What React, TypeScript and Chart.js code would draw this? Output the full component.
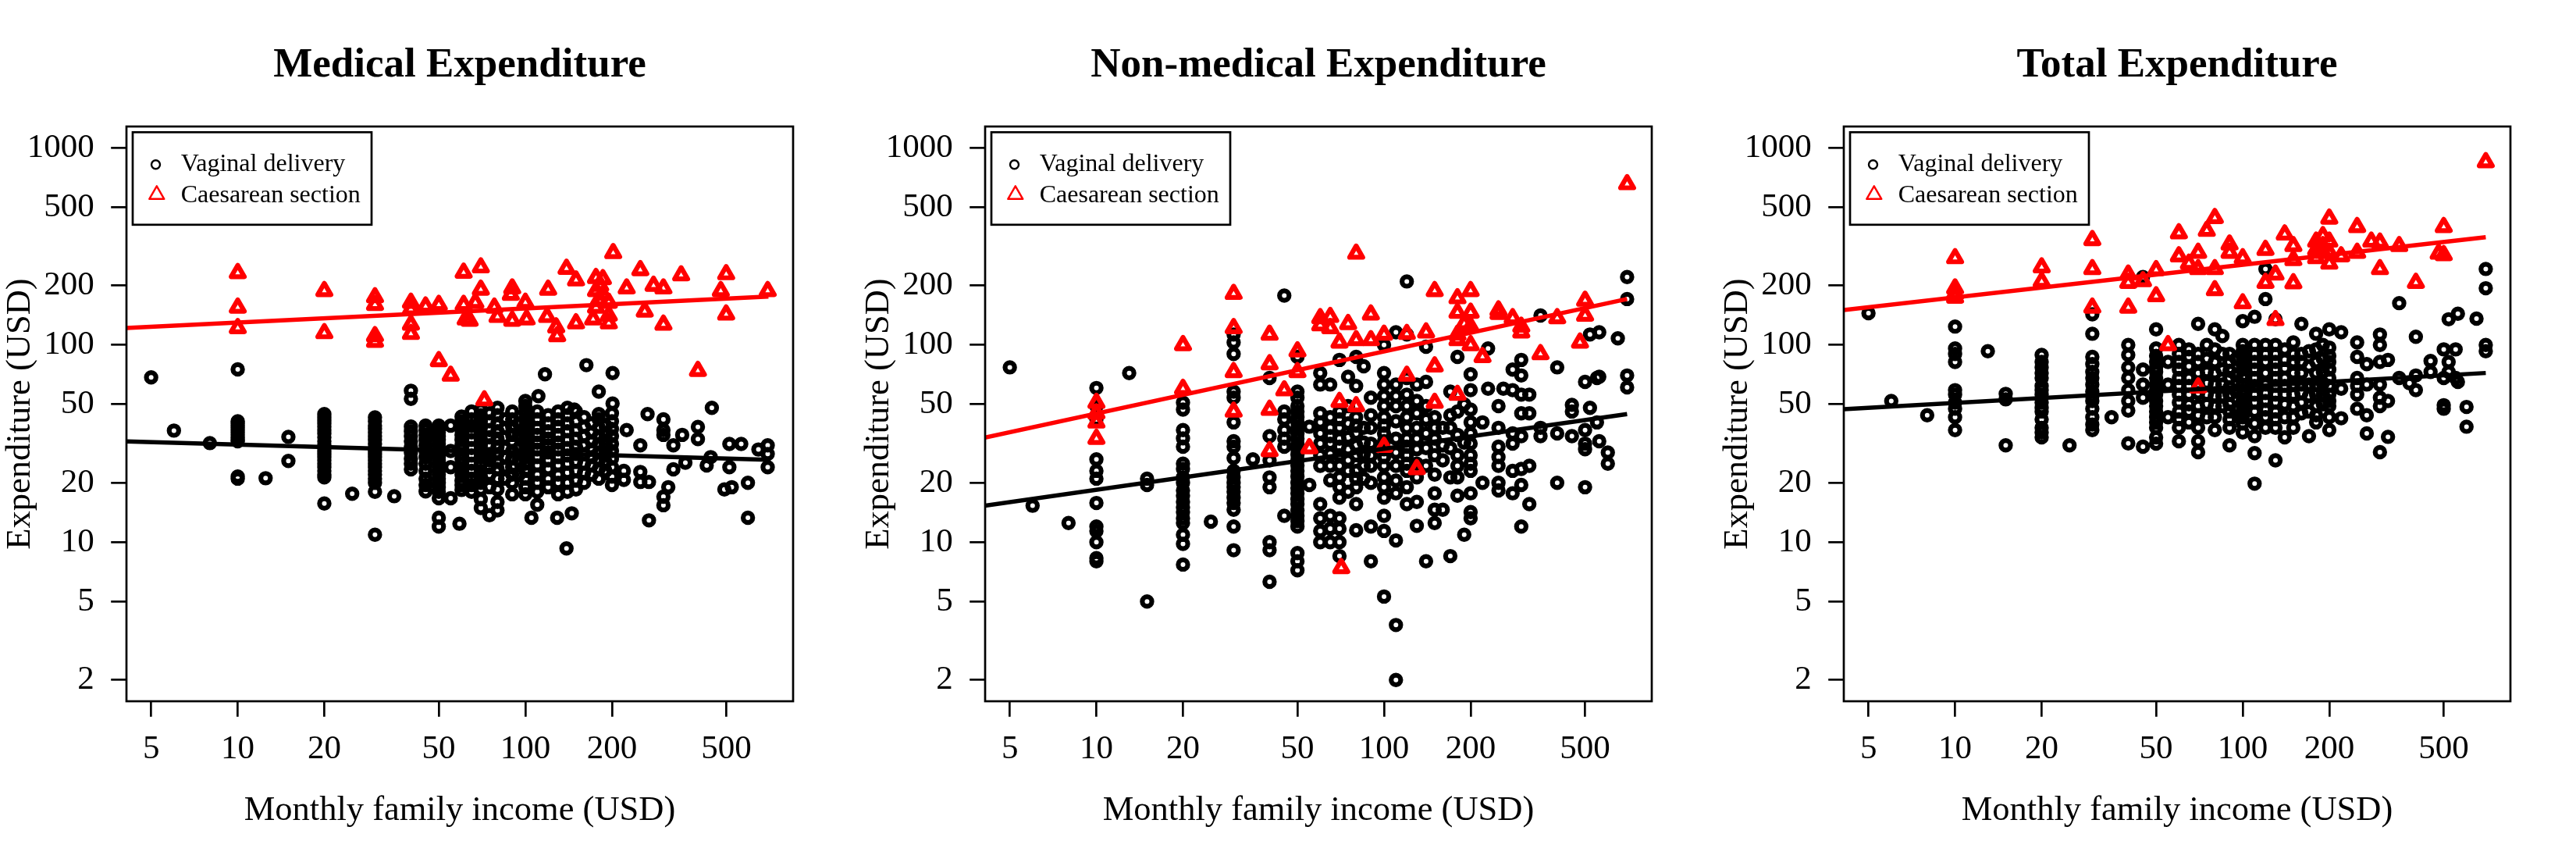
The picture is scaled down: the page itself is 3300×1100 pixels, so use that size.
import React, { useEffect, useRef } from "react";
import { Chart, registerables } from "chart.js";

Chart.register(...registerables);

const FONT = '"Liberation Serif", "Times New Roman", serif';

const xTicks = [5, 10, 20, 50, 100, 200, 500];
const yTicks = [2, 5, 10, 20, 50, 100, 200, 500, 1000];
const xRange = [4.103, 852.8];
const yRange = [1.56, 1282];
const fitIncome = [4.1, 700];

const panelTitles = ["Medical Expenditure", "Non-medical Expenditure", "Total Expenditure"];
const seriesLabels = ["Vaginal delivery", "Caesarean section"];
const xAxisTitle = "Monthly family income (USD)";
const yAxisTitle = "Expenditure (USD)";

type P = [number, number];

const medicalVaginal: P[] = [
  [5, 68.5], [6, 36.8], [8, 31.8],
  [10, 75.2], [10, 41], [10, 40], [10, 39], [10, 38], [10, 37], [10, 36], [10, 35], [10, 34], [10, 33], [10, 32.5], [10, 21.5], [10, 21],
  [12.5, 21.1], [15, 34.2], [15, 25.8],
  [20, 44.6], [20, 43], [20, 41.5], [20, 40], [20, 38.5], [20, 37], [20, 35.5], [20, 34], [20, 32.5], [20, 31], [20, 30], [20, 29], [20, 28], [20, 27], [20, 26], [20, 25], [20, 24], [20, 23], [20, 22], [20, 21.3], [20, 15.7],
  [25, 17.6],
  [30, 42.9], [30, 41], [30, 39], [30, 37.5], [30, 36], [30, 34.5], [30, 33], [30, 31.5], [30, 30], [30, 29], [30, 28], [30, 27], [30, 26], [30, 25], [30, 24], [30, 23], [30, 22], [30, 21], [30, 20], [30, 18], [30, 10.9],
  [35, 17.1],
  [40, 58.6], [40, 53.3], [40, 38.6], [40, 36.5], [40, 34.5], [40, 32.5], [40, 30.5], [40, 28.5], [40, 26.5], [40, 25], [40, 23.4],
  [45, 39], [45, 37], [45, 35], [45, 33], [45, 31], [45, 29], [45, 27], [45, 25], [45, 23], [45, 21], [45, 19.5], [45, 18.1],
  [50, 39], [50, 37.5], [50, 36], [50, 34.5], [50, 33], [50, 31.5], [50, 30], [50, 29], [50, 28], [50, 27], [50, 26], [50, 25], [50, 24], [50, 23], [50, 22], [50, 21], [50, 20], [50, 19], [50, 18], [50, 16.7], [50, 13.3], [50, 12],
  [55, 39], [55, 29], [55, 24], [55, 16.7], [59, 12.4],
  [60, 43.3], [60, 41], [60, 39], [60, 37], [60, 35], [60, 33], [60, 31], [60, 29.5], [60, 28], [60, 26.5], [60, 25], [60, 23.5], [60, 22], [60, 20.5], [60, 19.5], [60, 18.4],
  [65, 46], [65, 42], [65, 39], [65, 36], [65, 33], [65, 30], [65, 27.5], [65, 25], [65, 23], [65, 21], [65, 19.5], [65, 18],
  [70, 47], [70, 44], [70, 41], [70, 38], [70, 35.5], [70, 33], [70, 31], [70, 29], [70, 27], [70, 25], [70, 23], [70, 21.5], [70, 20], [70, 18.5], [70, 16.5], [70, 14.9],
  [75, 45], [75, 41], [75, 37], [75, 34], [75, 31], [75, 28], [75, 26], [75, 24], [75, 22], [75, 19], [75, 13.7],
  [80, 48], [80, 44], [80, 40], [80, 36.5], [80, 33.5], [80, 30.5], [80, 28], [80, 25.5], [80, 23.5], [80, 21], [80, 18.5], [80, 16], [80, 14.5],
  [85, 42], [85, 38], [85, 34], [85, 30], [85, 27], [85, 24], [85, 21],
  [90, 46], [90, 42], [90, 38.5], [90, 35], [90, 32], [90, 29], [90, 26.5], [90, 24], [90, 22], [90, 20], [90, 17.5],
  [95, 40], [95, 35], [95, 30], [95, 26], [95, 22],
  [100, 52], [100, 49], [100, 45], [100, 42], [100, 39], [100, 36], [100, 33.5], [100, 31], [100, 29], [100, 27], [100, 25], [100, 23], [100, 21], [100, 19], [100, 17.5], [105, 13.3],
  [111, 55], [110, 46], [110, 42], [110, 38], [110, 35], [110, 32], [110, 29.5], [110, 27], [110, 24.5], [110, 22], [110, 20], [110, 18], [110, 15.5],
  [117, 71], [120, 44], [120, 40], [120, 36.5], [120, 33.5], [120, 31], [120, 28.5], [120, 26], [120, 23.5], [120, 21], [120, 19],
  [129, 13.3], [130, 46], [130, 42], [130, 38.5], [130, 35], [130, 32], [130, 29.5], [130, 27], [130, 24.5], [130, 22], [130, 20], [130, 17.5],
  [139, 9.3], [140, 48], [140, 44], [140, 40], [140, 36.5], [140, 33], [140, 30], [140, 27.5], [140, 25], [140, 22.5], [140, 20], [140, 18], [145, 14],
  [148, 47], [150, 46], [150, 41], [150, 37], [150, 33.5], [150, 30.5], [150, 28], [150, 25.5], [150, 23], [150, 20.5], [150, 18.5],
  [160, 43], [160, 38.5], [160, 34.5], [160, 31], [160, 28], [160, 25], [160, 22.5], [160, 20], [163, 79],
  [170, 40], [170, 36], [170, 32.5], [170, 29.5], [170, 27], [170, 24.5], [170, 22],
  [180, 58], [180, 44.6], [180, 42], [180, 38], [180, 34.5], [180, 31.5], [180, 28.5], [180, 26], [180, 23.5], [180, 21],
  [190, 39], [190, 35], [190, 31.5], [190, 28.5], [190, 25.5], [190, 23],
  [201, 72], [201, 50.5], [200, 45], [200, 41], [200, 37.5], [200, 34.5], [200, 31.5], [200, 29], [200, 26.5], [200, 24], [200, 21.5], [200, 19.5],
  [225, 37], [220, 23], [220, 20.7],
  [251, 31], [251, 22.7], [251, 20.2], [266, 44.6], [269, 20.2], [269, 12.9],
  [302, 42], [302, 37], [302, 35], [302, 17], [302, 15.4], [314, 19], [327, 31], [327, 23.4], [351, 35], [360, 25.3],
  [398, 38.4], [398, 33.3], [427, 24.5], [441, 27], [445, 48],
  [492, 18.5], [512, 31.5], [512, 24], [522, 19], [563, 31.5], [594, 20], [594, 13.3],
  [646, 29.5], [696, 31], [696, 28], [696, 24],
];

const medicalCaesarean: P[] = [
  [10, 232], [10, 155], [10, 122], [20, 188], [20, 115],
  [30, 175], [30, 160], [30, 111], [30, 104], [40, 164], [40, 152], [40, 127], [40, 114],
  [45, 157], [50, 160], [50, 83], [55, 70],
  [61, 233], [61, 160], [62, 135], [64, 133], [67, 164], [70, 248], [70, 191], [72, 52.5],
  [78, 155], [80, 139], [89, 180], [90, 194], [90, 133], [100, 164], [101, 135],
  [119, 139], [120, 191], [128, 123], [129, 111], [139, 244], [150, 213], [150, 129],
  [172, 135], [176, 219], [176, 188], [176, 155], [180, 169], [182, 200], [186, 216], [186, 180],
  [195, 164], [195, 141], [195, 129], [202, 293], [225, 194], [251, 240], [260, 148],
  [279, 200], [302, 194], [302, 127], [348, 226], [398, 74], [478, 188], [499, 229], [499, 143], [696, 188],
];

const nonMedicalVaginal: P[] = [
  [5, 77], [6, 15.3], [8, 12.5],
  [10, 60.5], [10, 49], [10, 42], [10, 26.3], [10, 23], [10, 21], [10, 15.8], [10, 12], [10, 11.4], [10, 10], [10, 8.3], [10, 8],
  [13, 72], [15, 21], [15, 19.5], [15, 5],
  [20, 51], [20, 47], [20, 37], [20, 33.6], [20, 30.5], [20, 25], [20, 23.5], [20, 21.3], [20, 20], [20, 18.3], [20, 17.2], [20, 16], [20, 15], [20, 14.2], [20, 13.2], [20, 12.5], [20, 10.9], [20, 9.8], [20, 7.7],
  [25, 12.7],
  [30, 113], [30, 103], [30, 90], [30, 58], [30, 54], [30, 40.5], [30, 32.5], [30, 30.5], [30, 26.7], [30, 23], [30, 21.3], [30, 20], [30, 19], [30, 18], [30, 16.8], [30, 15.8], [30, 14.6], [30, 12], [30, 9.1],
  [35, 26.3],
  [40, 68], [40, 34.5], [40, 26], [40, 21.3], [40, 19], [40, 10], [40, 9.1], [40, 6.3],
  [45, 178], [45, 46], [45, 42], [45, 37], [45, 33.5], [45, 30.5], [45, 13.6],
  [50, 87], [50, 58], [50, 54], [50, 49], [50, 46], [50, 43], [50, 40.5], [50, 38], [50, 35.5], [50, 33.5], [50, 31.5], [50, 29.6], [50, 27.8], [50, 26], [50, 24.5], [50, 23], [50, 21.5], [50, 20], [50, 18.8], [50, 17.7], [50, 16.5], [50, 15.6], [50, 14.5], [50, 13.6], [50, 12.8], [50, 12], [50, 8.8], [50, 8], [50, 7.2],
  [55, 38.5], [55, 19.5],
  [60, 72], [60, 63], [60, 45], [60, 40.5], [60, 35.6], [60, 31.6], [60, 27.6], [60, 24.4], [60, 15.6], [60, 13.2], [60, 11.4], [60, 10],
  [65, 63], [65, 43], [65, 38], [65, 34.5], [65, 31.6], [65, 28], [65, 24.4], [65, 20.6], [65, 13.6], [65, 11.7], [65, 10],
  [70, 84], [70, 46], [70, 42], [70, 38], [70, 33.5], [70, 30.5], [70, 27.6], [70, 24.4], [70, 21.3], [70, 19], [70, 16.8], [70, 13.2], [70, 11.7], [70, 10], [70, 8.5],
  [75, 69], [75, 49], [75, 40], [75, 34], [75, 29.6], [75, 26], [75, 23], [75, 18],
  [80, 87], [80, 62], [80, 43], [80, 39], [80, 35.6], [80, 31], [80, 27.6], [80, 23], [80, 21], [80, 19], [80, 15.6], [80, 11.5],
  [85, 78], [85, 38], [85, 32], [85, 28], [85, 24.4], [85, 21],
  [90, 54], [90, 44], [90, 38], [90, 31.6], [90, 27.5], [90, 24.4], [90, 20], [90, 12], [90, 8],
  [100, 100], [100, 72], [100, 63], [100, 55], [100, 49], [100, 43], [100, 39], [100, 35.6], [100, 32.5], [100, 29.6], [100, 27], [100, 24.4], [100, 21.3], [100, 19], [100, 16.8], [100, 13.6], [100, 11.4], [100, 5.3],
  [110, 116], [110, 63], [110, 55], [110, 49], [110, 41], [110, 33.5], [110, 28.5], [110, 24.4], [110, 20.5], [110, 17.7], [110, 10.2], [110, 3.8], [110, 2],
  [120, 210], [120, 113], [120, 68], [120, 56], [120, 49], [120, 43], [120, 38], [120, 33.5], [120, 30.5], [120, 27.6], [120, 25], [120, 23], [120, 19], [120, 15.6],
  [130, 63], [130, 52], [130, 45], [130, 38], [130, 33.5], [130, 29.6], [130, 25], [130, 21.3], [130, 16], [130, 12.1],
  [140, 98], [140, 65], [140, 49], [140, 42], [140, 35.6], [140, 30], [140, 24.4], [140, 8],
  [150, 43], [150, 38], [150, 33.5], [150, 27.6], [150, 22], [150, 17.7], [150, 14.6], [150, 12.5],
  [160, 38], [160, 31], [160, 26], [160, 14.6],
  [170, 58], [170, 44], [170, 38], [170, 30], [170, 21.3], [170, 8.5],
  [180, 87], [180, 46], [180, 35], [180, 27.6], [180, 24.4], [180, 21.3], [180, 17.2],
  [190, 50], [190, 32], [190, 10.9],
  [200, 71], [200, 59], [200, 47], [200, 40.5], [200, 35.6], [200, 31.6], [200, 27.6], [200, 25], [200, 23], [200, 17.7], [200, 14.2], [200, 13.2],
  [220, 40.5], [220, 20], [230, 96], [230, 60],
  [250, 49], [250, 38], [250, 30.5], [250, 27], [250, 24.4], [250, 20], [250, 18.3], [260, 60],
  [280, 75], [280, 59], [280, 35.6], [280, 31.6], [280, 23], [280, 17.7],
  [300, 84], [300, 70], [300, 56], [300, 45], [300, 34.5], [300, 23.5], [300, 19.5], [300, 12],
  [320, 56], [320, 45], [320, 24.4], [320, 15.6],
  [350, 141], [350, 38], [350, 34.5], [400, 77], [400, 35.6], [400, 20],
  [450, 49.7], [450, 46], [450, 34.5],
  [500, 65], [500, 37], [500, 31.6], [500, 29.6], [500, 19], [520, 113], [520, 48],
  [550, 68], [550, 40.5], [560, 116], [560, 69], [560, 32.5], [600, 28.5], [600, 25], [650, 108],
  [700, 221], [700, 171], [700, 70], [700, 61],
];

const nonMedicalCaesarean: P[] = [
  [10, 51], [10, 45], [10, 40.5], [10, 33.5], [20, 100], [20, 60],
  [30, 182], [30, 122], [30, 73], [30, 46], [40, 113], [40, 80], [40, 47], [40, 29],
  [45, 59], [50, 93], [50, 73], [55, 30], [60, 137], [60, 126], [65, 139], [65, 122],
  [70, 103], [70, 51.5], [71, 7.4], [75, 128], [80, 291], [80, 106], [80, 49],
  [90, 143], [90, 106], [100, 113], [100, 30.5], [120, 114], [120, 70], [130, 23.5],
  [140, 116], [150, 188], [150, 78], [150, 51], [180, 173], [180, 146], [180, 113], [180, 106], [180, 56],
  [190, 128], [200, 188], [200, 146], [200, 124], [200, 100], [220, 87], [250, 150], [250, 144],
  [280, 137], [300, 124], [300, 116], [350, 90], [400, 137], [480, 103], [500, 168], [500, 141], [700, 655],
];

const totalVaginal: P[] = [
  [5, 145], [6, 52], [8, 44],
  [10, 124], [10, 96], [10, 90], [10, 82], [10, 59], [10, 56], [10, 51], [10, 47.5], [10, 43], [10, 37],
  [13, 93], [15, 56.5], [15, 53], [15, 31],
  [20, 89], [20, 82], [20, 77], [20, 72], [20, 68], [20, 62], [20, 59], [20, 56], [20, 51], [20, 48], [20, 46], [20, 42], [20, 38], [20, 36], [20, 34],
  [25, 31],
  [30, 143], [30, 114], [30, 87], [30, 80], [30, 73], [30, 68], [30, 63], [30, 58], [30, 55], [30, 52], [30, 47.5], [30, 43], [30, 39.5], [30, 37],
  [35, 43],
  [40, 100], [40, 89], [40, 77], [40, 68], [40, 59], [40, 52], [40, 46.5], [40, 31.7],
  [45, 221], [45, 75], [45, 63], [45, 54], [45, 30.5],
  [50, 120], [50, 96], [50, 88], [50, 82], [50, 77], [50, 73], [50, 68], [50, 63], [50, 59], [50, 56], [50, 52], [50, 49], [50, 46], [50, 43], [50, 40.5], [50, 38], [50, 34], [50, 31.6],
  [55, 82], [55, 63], [55, 43],
  [60, 100], [60, 90], [60, 82], [60, 75], [60, 68], [60, 62], [60, 56], [60, 51], [60, 46], [60, 42], [60, 38], [60, 32.5],
  [65, 95], [65, 87], [65, 78], [65, 68], [65, 62], [65, 56], [65, 50], [65, 46], [65, 40.5],
  [70, 128], [70, 90], [70, 82], [70, 72], [70, 63], [70, 57], [70, 49], [70, 44], [70, 38], [70, 32.5], [70, 28.6],
  [75, 100], [75, 85], [75, 73], [75, 64], [75, 56], [75, 50], [75, 43],
  [80, 120], [80, 95], [80, 82], [80, 72], [80, 63], [80, 55], [80, 49], [80, 43], [80, 37],
  [85, 111], [85, 90], [85, 75], [85, 63], [85, 55], [85, 49],
  [90, 90], [90, 82], [90, 74], [90, 68], [90, 61], [90, 56], [90, 50], [90, 46], [90, 42], [90, 38], [90, 31],
  [95, 85], [95, 70], [95, 58], [95, 47],
  [100, 132], [100, 100], [100, 93], [100, 87], [100, 80], [100, 75], [100, 69], [100, 63], [100, 59], [100, 56], [100, 52], [100, 49], [100, 46], [100, 43], [100, 40], [100, 36],
  [110, 139], [110, 100], [110, 90], [110, 82], [110, 75], [110, 68], [110, 62], [110, 56], [110, 51], [110, 46], [110, 40], [110, 34.5], [110, 28.3], [110, 19.8],
  [120, 243], [120, 171], [120, 100], [120, 90], [120, 82], [120, 72], [120, 63], [120, 57], [120, 52], [120, 47], [120, 43], [120, 38],
  [130, 135], [130, 100], [130, 90], [130, 82], [130, 75], [130, 68], [130, 62], [130, 56], [130, 51], [130, 46], [130, 42], [130, 38], [130, 26],
  [140, 95], [140, 84], [140, 76], [140, 68], [140, 62], [140, 56], [140, 50], [140, 43], [140, 34],
  [150, 103], [150, 90], [150, 82], [150, 72], [150, 63], [150, 56], [150, 49], [150, 43], [150, 38],
  [160, 128], [160, 90], [160, 82], [160, 72], [160, 63], [160, 57], [160, 51], [160, 45],
  [170, 93], [170, 78], [170, 63], [170, 55], [170, 46], [170, 34.5],
  [180, 114], [180, 95], [180, 82], [180, 72], [180, 63], [180, 56], [180, 49], [180, 44], [180, 40.5],
  [190, 100], [190, 85], [190, 73], [190, 64], [190, 56], [190, 50],
  [200, 120], [200, 97], [200, 88], [200, 82], [200, 75], [200, 68], [200, 62], [200, 56], [200, 52], [200, 49], [200, 43], [200, 37],
  [220, 116], [220, 60], [220, 42.5],
  [250, 103], [250, 87], [250, 68], [250, 62], [250, 56], [250, 47.5],
  [270, 80], [270, 63], [270, 44], [270, 35.6],
  [300, 113], [300, 100], [300, 82], [300, 63], [300, 54], [300, 49], [300, 28.6],
  [320, 84], [320, 52], [320, 34.2], [350, 163], [350, 68], [380, 64],
  [400, 110], [400, 70], [400, 59], [450, 83], [450, 73],
  [500, 95], [500, 68], [500, 49.5], [500, 47.5], [520, 135], [520, 82], [520, 73],
  [550, 95], [550, 68], [560, 144], [560, 65], [600, 48.5], [600, 38.5], [650, 136],
  [700, 243], [700, 194], [700, 100], [700, 93],
];

const totalCaesarean: P[] = [
  [10, 276], [10, 194], [10, 182], [10, 174], [20, 248], [20, 210],
  [30, 341], [30, 243], [30, 155], [40, 228], [40, 207], [40, 155], [45, 211],
  [50, 240], [50, 177], [55, 100], [60, 369], [60, 282], [65, 259], [70, 294], [70, 243], [70, 61],
  [75, 380], [80, 441], [80, 243], [80, 190], [90, 324], [90, 294], [100, 276], [100, 163],
  [120, 304], [120, 207], [130, 228], [130, 134], [140, 364], [150, 318], [150, 270], [150, 206],
  [180, 335], [180, 304], [180, 276], [190, 357], [190, 318], [190, 294],
  [200, 438], [200, 335], [200, 294], [200, 259], [220, 282], [250, 397], [250, 294],
  [280, 335], [300, 331], [300, 243], [350, 318], [400, 207], [480, 291], [500, 397], [500, 286], [700, 847],
];

const medicalFitVaginal = [32.4, 26.2];
const medicalFitCaesarean = [121.8, 176];
const nonMedicalFitVaginal = [15.3, 44.6];
const nonMedicalFitCaesarean = [33.9, 171];
const totalFitVaginal = [47.2, 72.1];
const totalFitCaesarean = [150.4, 352];

const panels = [
  { title: panelTitles[0], vaginal: medicalVaginal, caesarean: medicalCaesarean, fitV: medicalFitVaginal, fitC: medicalFitCaesarean },
  { title: panelTitles[1], vaginal: nonMedicalVaginal, caesarean: nonMedicalCaesarean, fitV: nonMedicalFitVaginal, fitC: nonMedicalFitCaesarean },
  { title: panelTitles[2], vaginal: totalVaginal, caesarean: totalCaesarean, fitV: totalFitVaginal, fitC: totalFitCaesarean },
];

const toPoints = (arr: P[]) => arr.map(([x, y]) => ({ x, y }));
const toLine = (ys: number[]) => fitIncome.map((x, i) => ({ x, y: ys[i] }));

const framePlugin = {
  id: "rFrame",
  beforeDatasetsDraw(chart: any) {
    chart.ctx.save();
    chart.ctx.lineJoin = "round";
  },
  afterDatasetsDraw(chart: any) {
    chart.ctx.restore();
  },
  afterDraw(chart: any) {
    const { ctx, chartArea: a } = chart;
    ctx.save();
    ctx.strokeStyle = "#000";
    ctx.lineWidth = 2.7;
    ctx.strokeRect(a.left, a.top, a.right - a.left, a.bottom - a.top);

    // legend box
    const bx = a.left + 8;
    const by = a.top + 7.3;
    ctx.fillStyle = "#fff";
    ctx.fillRect(bx, by, 306, 118.5);
    ctx.lineWidth = 2.7;
    ctx.strokeRect(bx, by, 306, 118.5);

    const ds = chart.data.datasets;
    const sx = a.left + 37.5;
    const tx = a.left + 69.7;
    // circle
    ctx.lineWidth = 2.4;
    ctx.strokeStyle = ds[0].pointBorderColor;
    ctx.beginPath();
    ctx.arc(sx, a.top + 48.7, 5.5, 0, Math.PI * 2);
    ctx.stroke();
    // triangle
    const r = 11;
    const cy = a.top + 87.3;
    const tcx = sx + 1.3;
    ctx.lineJoin = "round";
    ctx.strokeStyle = ds[1].pointBorderColor;
    ctx.beginPath();
    ctx.moveTo(tcx, cy - r);
    ctx.lineTo(tcx + r * 0.866, cy + r / 2);
    ctx.lineTo(tcx - r * 0.866, cy + r / 2);
    ctx.closePath();
    ctx.stroke();

    ctx.fillStyle = "#000";
    ctx.font = `32px ${FONT}`;
    ctx.textAlign = "left";
    ctx.textBaseline = "middle";
    ctx.fillText(ds[0].label, tx, a.top + 48.5);
    ctx.fillText(ds[1].label, tx, a.top + 88.4);
    ctx.restore();
  },
};

function Panel({ title, vaginal, caesarean, fitV, fitC }: any) {
  const ref = useRef<HTMLCanvasElement>(null);
  useEffect(() => {
    const axisCommon = {
      type: "logarithmic" as const,
      border: { display: false },
      grid: { display: true, drawOnChartArea: false, drawTicks: true, tickLength: 19.8, color: "#000", lineWidth: 2.7 },
    };
    const chart = new Chart(ref.current as HTMLCanvasElement, {
      type: "scatter",
      data: {
        datasets: [
          {
            label: seriesLabels[0],
            data: toPoints(vaginal),
            pointStyle: "circle",
            pointRadius: 6.1,
            pointBorderWidth: 6.2,
            pointBorderColor: "#000000",
            pointBackgroundColor: "rgba(0,0,0,0)",
            order: 3,
          },
          {
            label: seriesLabels[1],
            data: toPoints(caesarean),
            pointStyle: "triangle",
            pointRadius: 9.7,
            pointBorderWidth: 6.2,
            pointBorderColor: "#FF0000",
            pointBackgroundColor: "rgba(0,0,0,0)",
            order: 2,
          },
          {
            label: "fit vaginal",
            data: toLine(fitV),
            showLine: true,
            borderColor: "#000000",
            borderWidth: 5.5,
            pointRadius: 0,
            order: 1,
          },
          {
            label: "fit caesarean",
            data: toLine(fitC),
            showLine: true,
            borderColor: "#FF0000",
            borderWidth: 5.5,
            pointRadius: 0,
            order: 0,
          },
        ],
      } as any,
      options: {
        animation: false,
        responsive: false,
        devicePixelRatio: 1,
        events: [],
        layout: { padding: { left: 0, right: 84, top: 0, bottom: 0 } },
        plugins: {
          legend: { display: false },
          tooltip: { enabled: false },
          title: {
            display: true,
            text: title,
            fullSize: false,
            color: "#000",
            font: { family: FONT, size: 53, weight: "bold" },
            padding: { top: 52.4, bottom: 46 },
          },
        },
        scales: {
          x: {
            ...axisCommon,
            min: xRange[0],
            max: xRange[1],
            afterBuildTicks: (s: any) => {
              s.ticks = xTicks.map((v) => ({ value: v }));
            },
            afterFit: (s: any) => {
              s.height = 202;
            },
            ticks: {
              autoSkip: false,
              maxRotation: 0,
              color: "#000",
              padding: 16,
              font: { family: FONT, size: 43 },
              callback: (v: any) => String(v),
            },
            title: {
              display: true,
              text: xAxisTitle,
              color: "#000",
              font: { family: FONT, size: 44.5 },
              padding: { top: 0, bottom: 35.4 },
            },
          },
          y: {
            ...axisCommon,
            min: yRange[0],
            max: yRange[1],
            afterBuildTicks: (s: any) => {
              s.ticks = yTicks.map((v) => ({ value: v }));
            },
            afterFit: (s: any) => {
              s.width = 162;
            },
            ticks: {
              autoSkip: false,
              color: "#000",
              padding: 21.5,
              font: { family: FONT, size: 43 },
              callback: (v: any) => String(v),
            },
            title: {
              display: true,
              text: yAxisTitle,
              color: "#000",
              font: { family: FONT, size: 44.5 },
              padding: { top: 0, bottom: 0 },
            },
          },
        },
      } as any,
      plugins: [framePlugin],
    });
    return () => chart.destroy();
  }, []);
  return <canvas ref={ref} width={1100} height={1100} style={{ width: 1100, height: 1100, display: "block" }} />;
}

export default function App() {
  return (
    <div style={{ position: "absolute", left: 0, top: 0, width: 3300, height: 1100, display: "flex", background: "#ffffff" }}>
      {panels.map((p) => (
        <Panel key={p.title} {...p} />
      ))}
    </div>
  );
}
